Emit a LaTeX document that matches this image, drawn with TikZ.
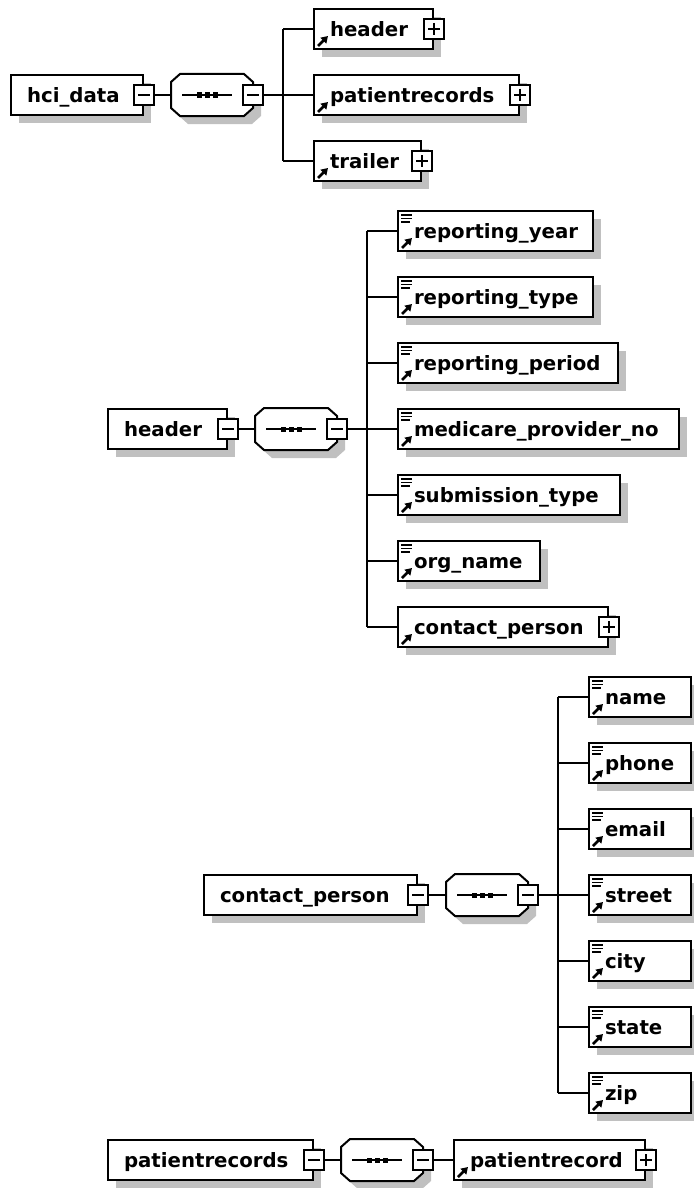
\documentclass[tikz,border=0pt]{standalone}
\usepackage{fontspec}
\usetikzlibrary{shadows,arrows.meta}
\newfontfamily\diagfont{DejaVu Sans}
\definecolor{shadowgray}{RGB}{192,192,192}
\hyphenpenalty=10000
\exhyphenpenalty=10000

% sequence compositor: octagon with shadow and the three dots
\newcommand{\seqshape}[1]{%
    \fill[shadowgray] ([shift={(17,8)}]#1.north west) -- ([shift={(-1,8)}]#1.north east) -- ([shift={(8,16)}]#1.north east)
        -- ([shift={(8,0)}]#1.south east) -- ([shift={(-1,8)}]#1.south east) -- ([shift={(17,8)}]#1.south west)
        -- ([shift={(8,0)}]#1.south west) -- ([shift={(8,16)}]#1.north west) -- cycle;
    \draw[fill=white] ([shift={(9,0)}]#1.north west) -- ([shift={(-9,0)}]#1.north east) -- ([shift={(0,8)}]#1.north east)
        -- ([shift={(0,-8)}]#1.south east) -- ([shift={(-9,0)}]#1.south east) -- ([shift={(9,0)}]#1.south west)
        -- ([shift={(0,-8)}]#1.south west) -- ([shift={(0,8)}]#1.north west) -- cycle;
    \draw[line width=1.3pt] ([shift={(-30,0)}]#1.center) -- ([shift={(20,0)}]#1.center);
    \fill ([shift={(-13,0)}]#1.center) +(-2.5,-2.5) rectangle +(2.5,2.5);
    \fill ([shift={(-5,0)}]#1.center) +(-2.5,-2.5) rectangle +(2.5,2.5);
    \fill ([shift={(3,0)}]#1.center) +(-2.5,-2.5) rectangle +(2.5,2.5);
}

\begin{document}
\begin{tikzpicture}[x=0.75pt, y=-0.75pt, line width=1.5pt,
    elem/.style={draw, fill=white, font={\diagfont\bfseries\fontsize{14.8}{17}\selectfont},
        align=left, anchor=west, text width=#1, inner xsep=12pt, inner ysep=0pt,
        minimum height=30pt, text height=15.75pt, text depth=4.5pt,
        drop shadow={shadow xshift=6pt, shadow yshift=-6pt, fill=shadowgray, opacity=1}},
    ref/.style={elem=#1, path picture={
        \draw[line width=2pt, -{Triangle[length=5pt, width=6pt]}]
            ([shift={(4,-3)}]path picture bounding box.south west) -- ([shift={(14,-13)}]path picture bounding box.south west);}},
    leaf/.style={elem=#1, path picture={
        \draw[line width=2pt, -{Triangle[length=5pt, width=6pt]}]
            ([shift={(4,-3)}]path picture bounding box.south west) -- ([shift={(14,-13)}]path picture bounding box.south west);
        \draw[line width=1.1pt] ([shift={(3,4)}]path picture bounding box.north west) -- ++(11,0)
            ([shift={(3,7.5)}]path picture bounding box.north west) -- ++(11,0)
            ([shift={(3,11)}]path picture bounding box.north west) -- ++(9,0);}},
    xbox/.style={draw, fill=white, line width=1.3pt, minimum size=15pt, inner sep=0pt},
    minusbox/.style={xbox, path picture={
        \draw[line width=1.1pt] ([xshift=3pt]path picture bounding box.west) -- ([xshift=-3pt]path picture bounding box.east);}},
    plusbox/.style={xbox, path picture={
        \draw[line width=1.1pt] ([xshift=3pt]path picture bounding box.west) -- ([xshift=-3pt]path picture bounding box.east)
            ([yshift=-3pt]path picture bounding box.north) -- ([yshift=3pt]path picture bounding box.south);}},
    seq/.style={minimum width=60pt, minimum height=30pt, inner sep=0pt}]
    \useasboundingbox (0,0) rectangle (693,1188);

    % TOP: hci_data
    \begin{scope}
        \node[elem=75pt] (hcidata) at (10,95) {hci\_data};
        \node[minusbox] (hcidata-x) at (hcidata.east) {};
        \node[seq] (seq1) at (212,95) {};
        \seqshape{seq1}
        \node[minusbox] (seq1-x) at (seq1.east) {};
        \coordinate (bus1) at (283,95);

        % children
        \node[ref=65.25pt] (hdr) at (313,29) {header};
        \node[plusbox] (hdr-x) at (hdr.east) {};
        \node[ref=129.75pt] (pats) at (313,95) {patientrecords};
        \node[plusbox] (pats-x) at (pats.east) {};
        \node[ref=56.25pt] (trl) at (313,161) {trailer};
        \node[plusbox] (trl-x) at (trl.east) {};

        % connectors
        \draw (hcidata-x) -- (seq1);
        \draw (seq1-x) -- (bus1);
        \draw (bus1 |- hdr.west) -- (bus1 |- trl.west);
        \draw (bus1 |- hdr.west) -- (hdr) (bus1 |- pats.west) -- (pats) (bus1 |- trl.west) -- (trl);
    \end{scope}

    % SECOND: header
    \begin{scope}
        \node[elem=65.25pt] (header) at (107,429) {header};
        \node[minusbox] (header-x) at (header.east) {};
        \node[seq] (seq2) at (296,429) {};
        \seqshape{seq2}
        \node[minusbox] (seq2-x) at (seq2.east) {};
        \coordinate (bus2) at (367,429);

        % children
        \node[leaf=122.25pt] (ryear) at (397,231) {reporting\_year};
        \node[leaf=122.25pt] (rtype) at (397,297) {reporting\_type};
        \node[leaf=141pt] (rperiod) at (397,363) {reporting\_period};
        \node[leaf=186.75pt] (mpno) at (397,429) {medicare\_provider\_no};
        \node[leaf=142.5pt] (subtype) at (397,495) {submission\_type};
        \node[leaf=82.5pt] (orgname) at (397,561) {org\_name};
        \node[ref=133.5pt] (contact) at (397,627) {contact\_person};
        \node[plusbox] (contact-x) at (contact.east) {};

        % connectors
        \draw (header-x) -- (seq2);
        \draw (seq2-x) -- (bus2);
        \draw (bus2 |- ryear.west) -- (bus2 |- contact.west);
        \draw (bus2 |- ryear.west) -- (ryear) (bus2 |- rtype.west) -- (rtype)
              (bus2 |- rperiod.west) -- (rperiod) (bus2 |- mpno.west) -- (mpno)
              (bus2 |- subtype.west) -- (subtype) (bus2 |- orgname.west) -- (orgname)
              (bus2 |- contact.west) -- (contact);
    \end{scope}

    % THIRD: contact_person
    \begin{scope}
        \node[elem=135.75pt] (contactp) at (203,895) {contact\_person};
        \node[minusbox] (contactp-x) at (contactp.east) {};
        \node[seq] (seq3) at (487,895) {};
        \seqshape{seq3}
        \node[minusbox] (seq3-x) at (seq3.east) {};
        \coordinate (bus3) at (558,895);

        % children
        \node[leaf=52.5pt] (name) at (588,697) {name};
        \node[leaf=52.5pt] (phone) at (588,763) {phone};
        \node[leaf=52.5pt] (email) at (588,829) {email};
        \node[leaf=52.5pt] (street) at (588,895) {street};
        \node[leaf=52.5pt] (city) at (588,961) {city};
        \node[leaf=52.5pt] (state) at (588,1027) {state};
        \node[leaf=52.5pt] (zip) at (588,1093) {zip};

        % connectors
        \draw (contactp-x) -- (seq3);
        \draw (seq3-x) -- (bus3);
        \draw (bus3 |- name.west) -- (bus3 |- zip.west);
        \draw (bus3 |- name.west) -- (name) (bus3 |- phone.west) -- (phone)
              (bus3 |- email.west) -- (email) (bus3 |- street.west) -- (street)
              (bus3 |- city.west) -- (city) (bus3 |- state.west) -- (state)
              (bus3 |- zip.west) -- (zip);
    \end{scope}

    % BOTTOM: patientrecords
    \begin{scope}
        \node[elem=129.75pt] (patrecs) at (107,1160) {patientrecords};
        \node[minusbox] (patrecs-x) at (patrecs.east) {};
        \node[seq] (seq4) at (382,1160) {};
        \seqshape{seq4}
        \node[minusbox] (seq4-x) at (seq4.east) {};
        \node[ref=119.25pt] (patrec) at (453,1160) {patientrecord};
        \node[plusbox] (patrec-x) at (patrec.east) {};

        % connectors
        \draw (patrecs-x) -- (seq4);
        \draw (seq4-x) -- (patrec);
    \end{scope}
\end{tikzpicture}
\end{document}
